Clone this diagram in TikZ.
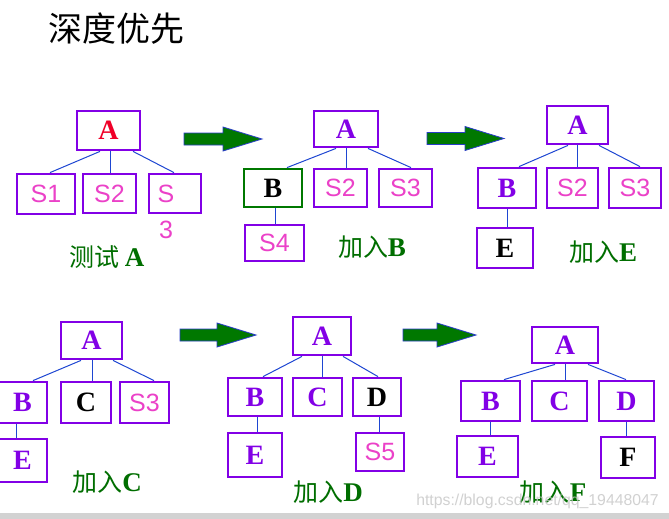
\documentclass[tikz,border=0pt]{standalone}
\usepackage{fontspec}
\setmainfont{Liberation Serif}
\newfontfamily\sansf{Liberation Sans}
\newfontfamily\cjk{Noto Sans CJK SC}
\definecolor{pur}{RGB}{130,0,230}
\definecolor{pnk}{RGB}{235,65,200}
\definecolor{redA}{RGB}{240,0,40}
\definecolor{lgreen}{RGB}{0,110,0}
\definecolor{bgreen}{RGB}{0,120,0}
\definecolor{eblue}{RGB}{30,70,210}
\definecolor{agreen}{RGB}{0,120,0}
\definecolor{ablue}{RGB}{40,60,200}
\tikzset{
  box/.style={draw=pur, line width=2.8pt, inner sep=0pt, fill=white},
  ltr/.style={font=\fontsize{28}{28}\selectfont\bfseries, text=pur},
  sl/.style={font=\sansf\fontsize{25}{25}\selectfont, text=pnk},
  conn/.style={draw=eblue, line width=1pt},
  lbl/.style={text=lgreen, inner sep=0pt},
  bigarr/.style={fill=agreen, draw=ablue, line width=0.8pt},
}
\newcommand\lblcjk[1]{{\cjk\fontsize{25}{25}\selectfont #1}}
\newcommand\lblltr[1]{{\fontsize{27}{27}\selectfont\bfseries #1}}
\newcommand\fatarrow[3]{%
  \draw[bigarr] (#1,#2) ++(0,-6) -- ++({#3-39},0) -- ++(0,-6) -- ++(39,12)
     -- ++(-39,12) -- ++(0,-6) -- ++({-(#3-39)},0) -- cycle;}
\begin{document}
\begin{tikzpicture}[x=1pt,y=-1pt]
\useasboundingbox (0,0) rectangle (669,519);
\fill[white] (0,0) rectangle (669,519);
\fill[gray!35] (0,513) rectangle (669,519);

% title
\node[anchor=west, inner sep=0pt, font=\cjk\fontsize{34}{34}\selectfont] (title) at (48,29) {深度优先};

% ---------- tree 1
\node[box, ltr, text=redA, minimum width=63, minimum height=39] (a1) at (108.5,130.5) {A};
\node[box, sl, minimum width=58, minimum height=40] (s11) at (46,194) {S1};
\node[box, sl, minimum width=53, minimum height=39] (s12) at (109.5,193.5) {S2};
\node[box, minimum width=52, minimum height=39] (s13) at (175,193.5) {};
\node[sl, inner sep=0pt] (s13t) at (166,194) {S};
\node[sl, inner sep=0pt] (s13n) at (166,230) {3};
\draw[conn] ([xshift=-8.5pt]a1.south) -- ([xshift=4pt]s11.north);
\draw[conn] ([xshift=2.2pt]a1.south) -- ([xshift=1.2pt]s12.north);
\draw[conn] ([xshift=24.5pt]a1.south) -- ([xshift=-1pt]s13.north);
\node[lbl] (l1) at (107,257) {\lblcjk{测试}\ \ \lblltr{A}};

% ---------- tree 2
\node[box, ltr, minimum width=64, minimum height=36] (a2) at (346,129) {A};
\node[box, draw=bgreen, ltr, text=black, minimum width=58, minimum height=38] (b2) at (273,188) {B};
\node[box, sl, minimum width=53, minimum height=38] (s22) at (340.5,188) {S2};
\node[box, sl, minimum width=53, minimum height=38] (s23) at (405.5,188) {S3};
\node[box, sl, minimum width=59, minimum height=36] (s24) at (274.5,243) {S4};
\draw[conn] ([xshift=-10pt]a2.south) -- ([xshift=14pt]b2.north);
\draw[conn] (a2.south) -- ([xshift=5.5pt]s22.north);
\draw[conn] ([xshift=22pt]a2.south) -- ([xshift=5.5pt]s23.north);
\draw[conn] ([xshift=2pt]b2.south) -- ([xshift=0.5pt]s24.north);
\node[lbl] (l2) at (372,247) {\lblcjk{加入}\lblltr{B}};

% ---------- tree 3
\node[box, ltr, minimum width=61, minimum height=38] (a3) at (577.5,125) {A};
\node[box, ltr, minimum width=58, minimum height=40] (b3) at (507,188) {B};
\node[box, sl, minimum width=51, minimum height=40] (s32) at (572.5,188) {S2};
\node[box, sl, minimum width=52, minimum height=40] (s33) at (635,188) {S3};
\node[box, ltr, text=black, minimum width=56, minimum height=40] (e3) at (505,248) {E};
\draw[conn] ([xshift=-9.5pt]a3.south) -- ([xshift=12pt]b3.north);
\draw[conn] ([xshift=-0.5pt]a3.south) -- ([xshift=4.5pt]s32.north);
\draw[conn] ([xshift=21.5pt]a3.south) -- ([xshift=5pt]s33.north);
\draw[conn] (b3.south) -- ([xshift=2pt]e3.north);
\node[lbl] (l3) at (603,252) {\lblcjk{加入}\lblltr{E}};

% ---------- tree 4
\node[box, ltr, minimum width=61, minimum height=37] (a4) at (91.5,340.5) {A};
\node[box, ltr, minimum width=49, minimum height=41] (b4) at (22.5,402.5) {B};
\node[box, ltr, text=black, minimum width=50, minimum height=41] (c4) at (86,402.5) {C};
\node[box, sl, minimum width=49, minimum height=41] (s43) at (144.5,402.5) {S3};
\node[box, ltr, minimum width=49, minimum height=43] (e4) at (22.5,460.5) {E};
\draw[conn] ([xshift=-10.5pt]a4.south) -- ([xshift=10.5pt]b4.north);
\draw[conn] ([xshift=0.5pt]a4.south) -- ([xshift=6pt]c4.north);
\draw[conn] ([xshift=21.5pt]a4.south) -- ([xshift=9.5pt]s43.north);
\draw[conn] ([xshift=-6.5pt]b4.south) -- ([xshift=-6.5pt]e4.north);
\node[lbl] (l4) at (107,482) {\lblcjk{加入}\lblltr{C}};

% ---------- tree 5
\node[box, ltr, minimum width=58, minimum height=38] (a5) at (322,336) {A};
\node[box, ltr, minimum width=54, minimum height=38] (b5) at (255,397) {B};
\node[box, ltr, minimum width=49, minimum height=38] (c5) at (317.5,397) {C};
\node[box, ltr, text=black, minimum width=48, minimum height=38] (d5) at (377,397) {D};
\node[box, ltr, minimum width=54, minimum height=44] (e5) at (255,455) {E};
\node[box, sl, minimum width=48, minimum height=38] (s55) at (380,452) {S5};
\draw[conn] ([xshift=-20pt]a5.south) -- ([xshift=8pt]b5.north);
\draw[conn] (a5.south) -- ([xshift=4.5pt]c5.north);
\draw[conn] ([xshift=21pt]a5.south) -- ([xshift=1pt]d5.north);
\draw[conn] ([xshift=2pt]b5.south) -- ([xshift=2pt]e5.north);
\draw[conn] ([xshift=2pt]d5.south) -- ([xshift=-1pt]s55.north);
\node[lbl] (l5) at (328,492) {\lblcjk{加入}\lblltr{D}};

% ---------- tree 6
\node[box, ltr, minimum width=66, minimum height=36] (a6) at (565,345) {A};
\node[box, ltr, minimum width=59, minimum height=40] (b6) at (490.5,401) {B};
\node[box, ltr, minimum width=55, minimum height=40] (c6) at (559.5,401) {C};
\node[box, ltr, minimum width=55, minimum height=40] (d6) at (626.5,401) {D};
\node[box, ltr, minimum width=61, minimum height=41] (e6) at (487.5,456.5) {E};
\node[box, ltr, text=black, minimum width=54, minimum height=41] (f6) at (628,457.5) {F};
\draw[conn] ([xshift=-10pt]a6.south) -- ([xshift=13.5pt]b6.north);
\draw[conn] (a6.south) -- ([xshift=5.5pt]c6.north);
\draw[conn] ([xshift=23pt]a6.south) -- ([xshift=-0.5pt]d6.north);
\draw[conn] ([xshift=-0.5pt]b6.south) -- ([xshift=2.5pt]e6.north);
\draw[conn] ([xshift=-0.5pt]d6.south) -- ([xshift=-2pt]f6.north);
\node[lbl] (l6) at (553,492) {\lblcjk{加入}\lblltr{F}};

% ---------- arrows
\fatarrow{184}{139}{78}
\fatarrow{427}{138.5}{77}
\fatarrow{180}{335}{76}
\fatarrow{403}{335}{73}

% watermark
\node[inner sep=0pt, text=gray!45, opacity=0.8, font=\sansf\fontsize{15.8}{15.8}\selectfont] (wm) at (537.5,501) {https://blog.csdn.net/qq\_19448047};
\end{tikzpicture}
\end{document}
